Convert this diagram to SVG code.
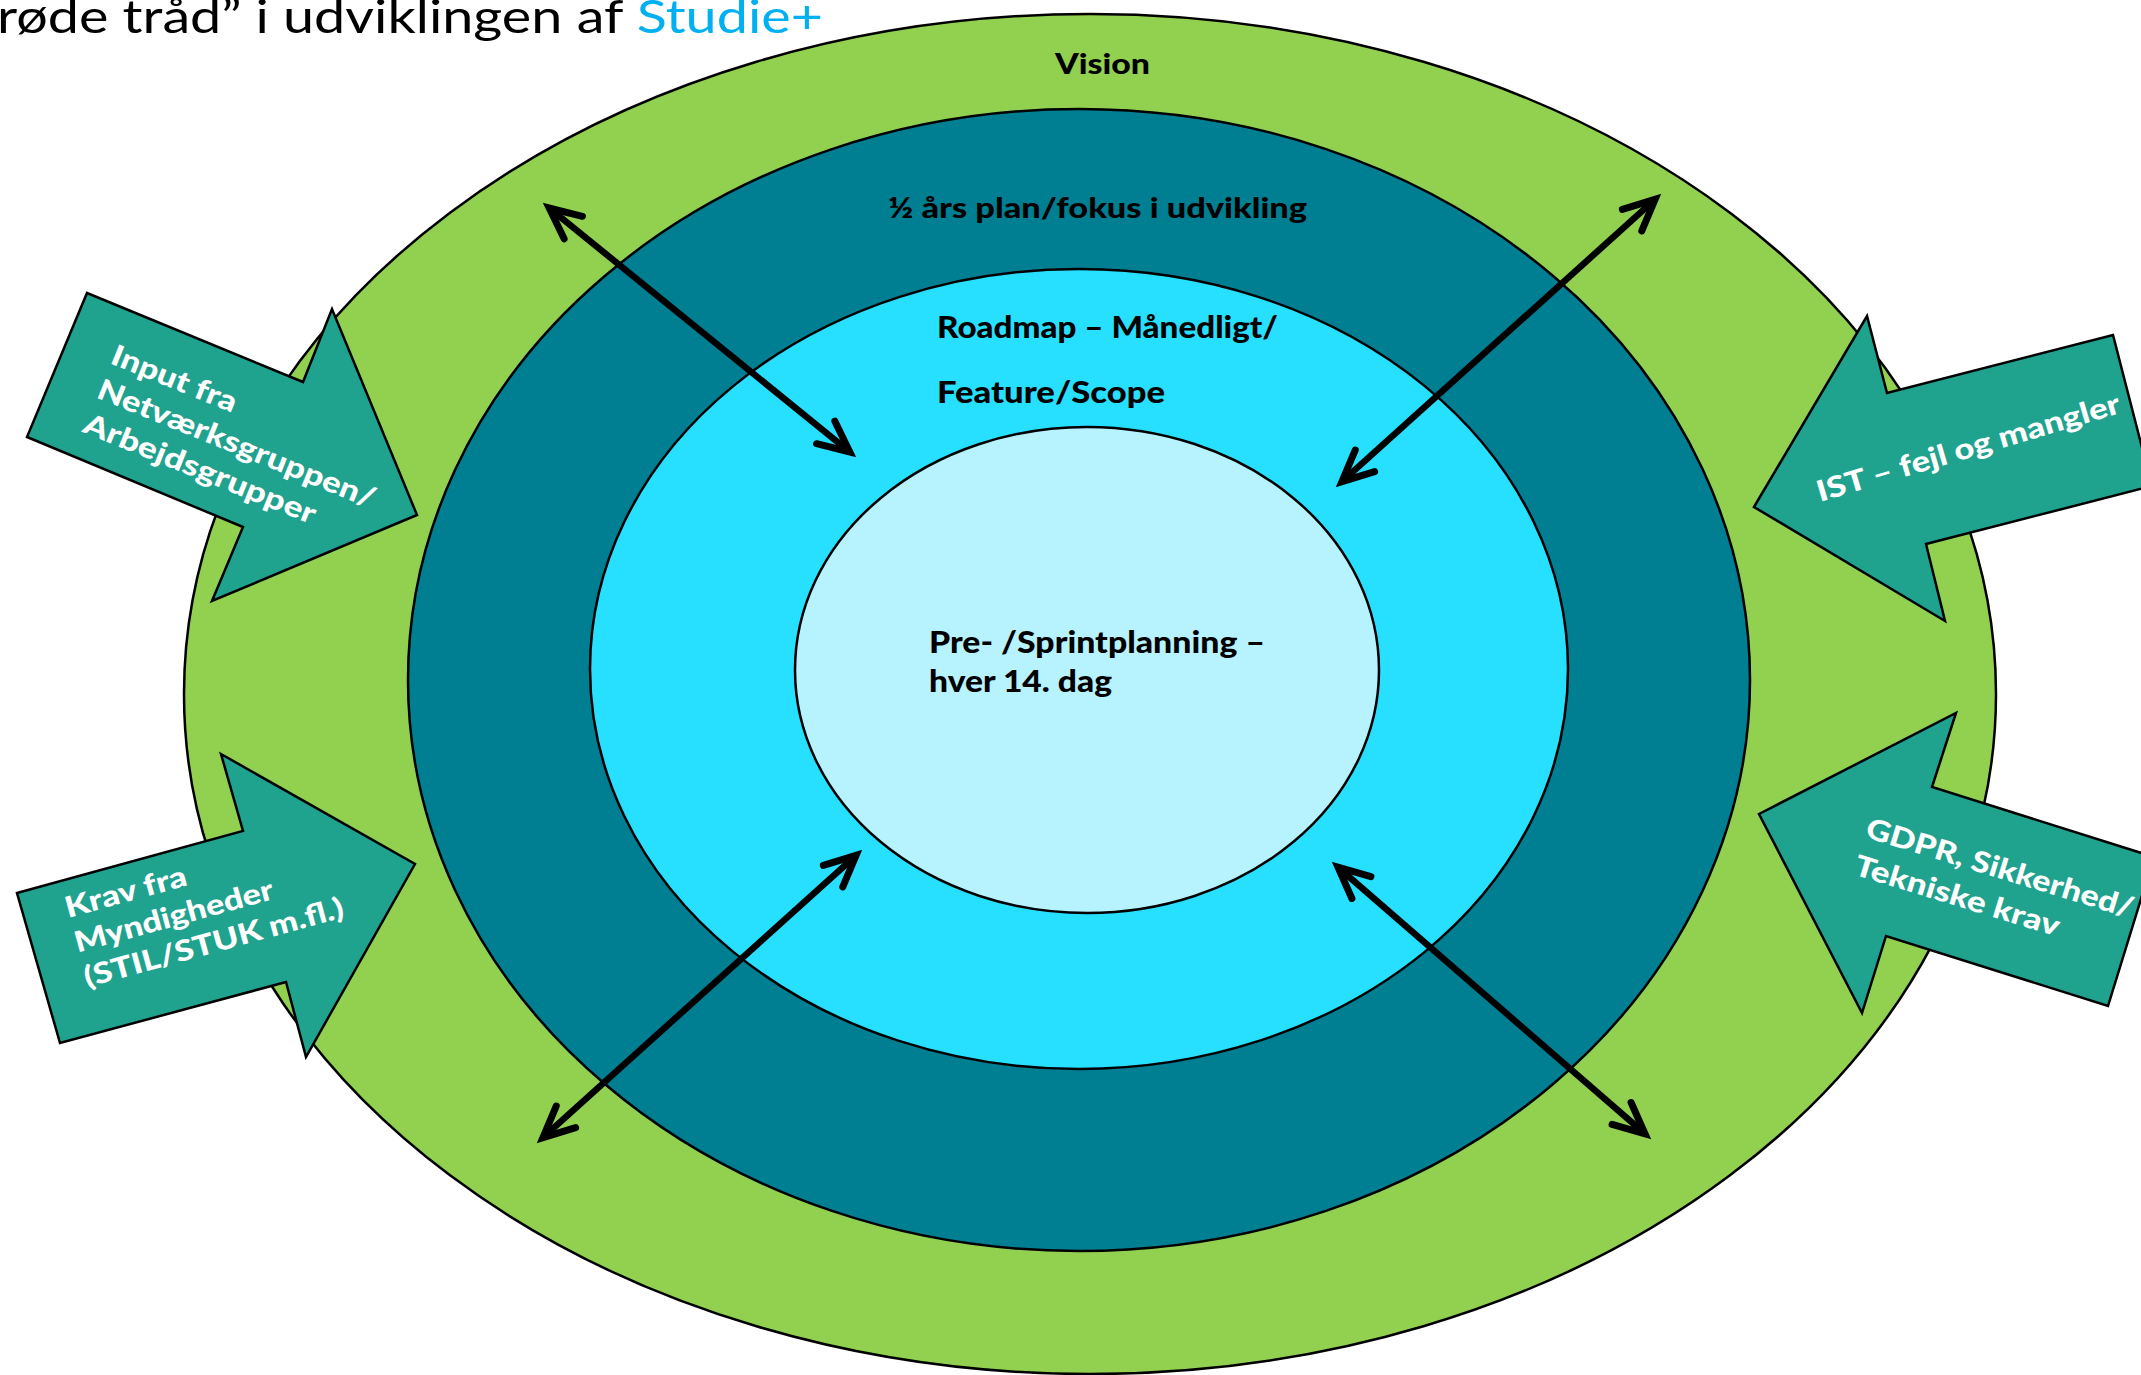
<svg xmlns="http://www.w3.org/2000/svg" width="2141" height="1375" viewBox="0 0 2141 1375">
<style>
.ring{stroke:#000;stroke-width:2.5}
.blk{fill:#1FA28E;stroke:#000;stroke-width:2.5;stroke-linejoin:miter}
.lbl{font-family:Lato,"Liberation Sans",sans-serif;font-weight:900;fill:#000}
.wlbl{font-family:Lato,"Liberation Sans",sans-serif;font-weight:900;fill:#fff;font-size:29px}
.conn{stroke:#000;stroke-width:6.5;fill:none;marker-start:url(#ah);marker-end:url(#ah)}
</style>
<defs>
<marker id="ah" viewBox="-45 -25 60 50" refX="0" refY="0" markerWidth="60" markerHeight="50" markerUnits="userSpaceOnUse" orient="auto-start-reverse" overflow="visible">
<path d="M-31,-14.5 L0,0 L-31,14.5" fill="none" stroke="#000" stroke-width="7" stroke-linecap="round" stroke-linejoin="miter"/>
</marker>
</defs>
<rect width="2141" height="1375" fill="#fff"/>
<text x="-3" y="33" font-family="Lato,'Liberation Sans',sans-serif" font-size="46" font-weight="400" textLength="826" lengthAdjust="spacingAndGlyphs" fill="#000">røde tråd” i udviklingen af <tspan fill="#00B0F0">Studie+</tspan></text>

<g id="vision">
<ellipse class="ring" cx="1090" cy="694" rx="906" ry="680" fill="#92D050"/>
<text class="lbl" x="1055" y="74" font-size="28" textLength="95" lengthAdjust="spacingAndGlyphs">Vision</text>
</g>
<g id="halvaar">
<ellipse class="ring" cx="1079" cy="680" rx="671" ry="571" fill="#007E92"/>
<text class="lbl" x="888" y="218" font-size="29" textLength="419" lengthAdjust="spacingAndGlyphs">½ års plan/fokus i udvikling</text>
</g>
<g id="roadmap">
<ellipse class="ring" cx="1079" cy="669" rx="489" ry="400" fill="#27DFFF"/>
<text class="lbl" x="937" y="338" font-size="30" textLength="341" lengthAdjust="spacingAndGlyphs">Roadmap – Månedligt/</text>
<text class="lbl" x="937" y="403" font-size="30" textLength="228" lengthAdjust="spacingAndGlyphs">Feature/Scope</text>
</g>
<g id="sprint">
<ellipse class="ring" cx="1087" cy="670" rx="292" ry="243" fill="#B6F3FF"/>
<text class="lbl" x="929" y="653" font-size="30" textLength="336" lengthAdjust="spacingAndGlyphs">Pre- /Sprintplanning –</text>
<text class="lbl" x="929" y="692" font-size="30" textLength="183" lengthAdjust="spacingAndGlyphs">hver 14. dag</text>
</g>

<g id="input-netvaerk">
<polygon class="blk" points="87,293 303,382 332,309 417,515 212,601 243,527 27,437"/>
<g transform="translate(109,363) rotate(22)">
<text class="wlbl" x="0" y="0" textLength="133" lengthAdjust="spacingAndGlyphs">Input fra</text>
<text class="wlbl" x="0" y="37" textLength="297" lengthAdjust="spacingAndGlyphs">Netværksgruppen/</text>
<text class="wlbl" x="0" y="74" textLength="248" lengthAdjust="spacingAndGlyphs">Arbejdsgrupper</text>
</g>
</g>
<g id="krav-myndigheder">
<polygon class="blk" points="17,893 243,831 221,754 415,864 306,1057 286,982 60,1043"/>
<g transform="translate(68,918) rotate(-15.3)">
<text class="wlbl" x="0" y="0" textLength="125" lengthAdjust="spacingAndGlyphs">Krav fra</text>
<text class="wlbl" x="0" y="36" textLength="205" lengthAdjust="spacingAndGlyphs">Myndigheder</text>
<text class="wlbl" x="0" y="72" textLength="268" lengthAdjust="spacingAndGlyphs">(STIL/STUK m.fl.)</text>
</g>
</g>
<g id="ist">
<polygon class="blk" points="1754,507 1867,316 1887,393 2113,335 2152,486 1926,544 1945,621"/>
<text class="wlbl" transform="translate(1820,502) rotate(-16.5)" x="0" y="0" textLength="315" lengthAdjust="spacingAndGlyphs">IST – fejl og mangler</text>
</g>
<g id="gdpr">
<polygon class="blk" points="1759,814 1956,713 1932,787 2154,857 2108,1006 1886,936 1862,1013"/>
<g transform="translate(1864,837) rotate(17)">
<text class="wlbl" x="0" y="0" textLength="278" lengthAdjust="spacingAndGlyphs">GDPR, Sikkerhed/</text>
<text class="wlbl" x="0" y="39" textLength="213" lengthAdjust="spacingAndGlyphs">Tekniske krav</text>
</g>
</g>

<g id="connectors">
<line class="conn" x1="549.2" y1="208" x2="849.8" y2="452"/>
<line class="conn" x1="1655.1" y1="199.4" x2="1341.9" y2="481.6"/>
<line class="conn" x1="856.1" y1="855.4" x2="542.9" y2="1137.6"/>
<line class="conn" x1="1338" y1="867.2" x2="1645" y2="1133.8"/>
</g>
</svg>
